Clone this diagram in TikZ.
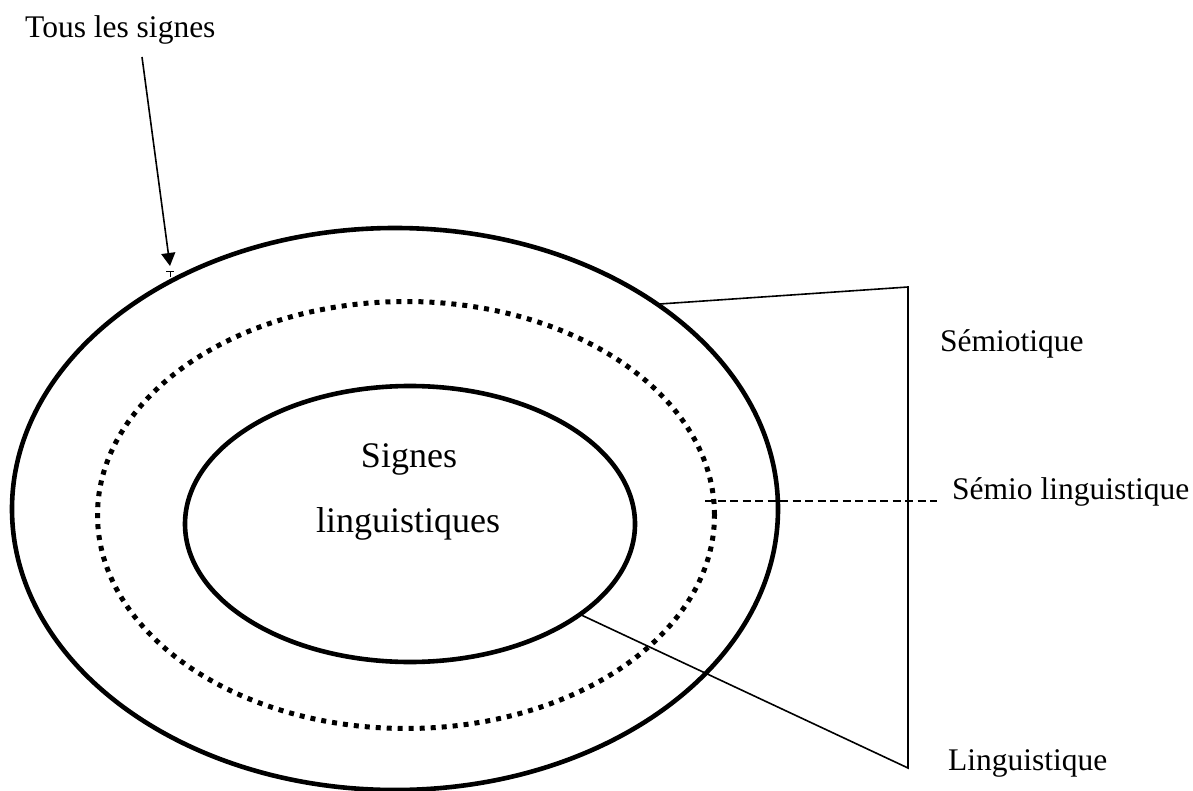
\documentclass[tikz,border=0pt]{standalone}
\usepackage{fontspec}
\setmainfont{Liberation Serif}
\usetikzlibrary{arrows.meta,shapes.geometric}
\begin{document}
\begin{tikzpicture}[x=1pt,y=-1pt,
  thickring/.style={draw=black,line width=4.6pt,ellipse,inner sep=0pt,outer sep=0pt},
  dotring/.style={draw=black,line width=5pt,ellipse,inner sep=0pt,outer sep=0pt,dash pattern=on 5pt off 6pt},
  thinline/.style={draw=black,line width=1.6pt},
  dashline/.style={draw=black,line width=1.4pt,dash pattern=on 8pt off 4.5pt},
  lbl/.style={inner sep=0pt,font=\fontsize{31.5}{36}\selectfont},
  biglbl/.style={inner sep=0pt,font=\fontsize{36}{42}\selectfont}]
\useasboundingbox (0,0) rectangle (1193,791);
% ellipses
\node[thickring,minimum width=766pt,minimum height=562pt] (outer) at (395,509) {};
\node[dotring,minimum width=617pt,minimum height=427pt] (mid) at (406,515) {};
\node[thickring,minimum width=450pt,minimum height=276pt] (inner) at (410,524) {};
% centre text
\node[biglbl,anchor=base] (t1) at (409,467) {Signes};
\node[biglbl,anchor=base] (t2) at (408,532) {linguistiques};
% labels
\node[lbl,anchor=base west] (tous) at (25,38) {Tous les signes};
\node[lbl,anchor=base west] (semio) at (940,352) {Sémiotique};
\node[lbl,anchor=base west] (semling) at (952,499) {Sémio linguistique};
\node[lbl,anchor=base west] (ling) at (948,770) {Linguistique};
% connector points
\coordinate (a0) at (142,57);
\coordinate (a1) at (170,266);
\coordinate (c1) at (908,287);
\coordinate (c2) at (908,768);
\coordinate (d1) at (705,501);
\coordinate (d2) at (937,501);
% arrow
\draw[thinline,-{Triangle[length=13pt,width=14pt]}] (a0) -- (a1);
\coordinate (k0) at (166,272);
\coordinate (k1) at (174,272);
\coordinate (k2) at (170,272);
\coordinate (k3) at (170,277);
\draw[line width=1pt] (k0) -- (k1) (k2) -- (k3);
% bracket lines
\draw[thinline] (outer.38.7) -- (c1) -- (c2) -- (inner.-28.2);
\draw[dashline] (d1) -- (d2);
\end{tikzpicture}
\end{document}
